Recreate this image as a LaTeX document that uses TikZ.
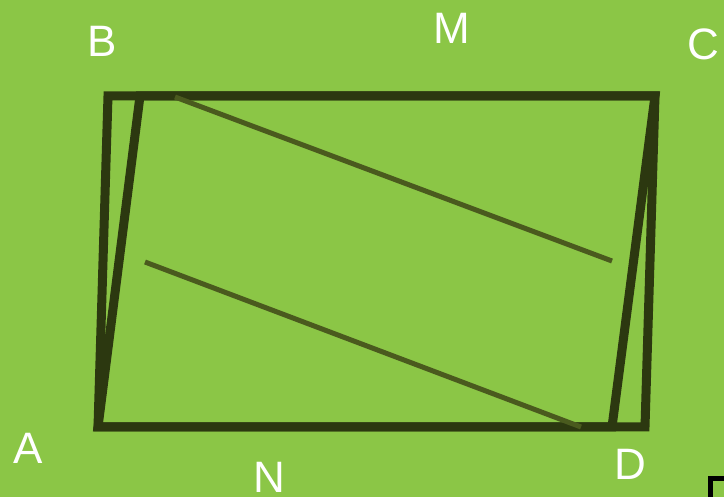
\documentclass[tikz,border=0pt]{standalone}
\usepackage{fontspec}
\setmainfont{Liberation Sans}
\definecolor{leaf}{RGB}{139,198,70}
\definecolor{frame}{RGB}{44,56,16}
\definecolor{stroke}{RGB}{74,90,30}
\tikzset{
  edge/.style={draw=frame, line width=9pt, line join=miter},
  diag/.style={draw=stroke, line width=5pt},
  lbl/.style={anchor=base, inner sep=0pt, text=white, font=\fontsize{44}{44}\selectfont}
}
\begin{document}
\begin{tikzpicture}[x=1pt,y=-1pt]
  \fill[leaf] (0,0) rectangle (724,497);
  \useasboundingbox (0,0) rectangle (724,497);
  \clip (0,0) rectangle (724,497);
  % corners
  \coordinate (A) at (98,427);
  \coordinate (B) at (108,96);
  \coordinate (C) at (655,96);
  \coordinate (D) at (645,427);
  \coordinate (P) at (140,96);
  \coordinate (Q) at (612,427);
  \draw[edge] (A) -- (B) -- (C) -- (D) -- cycle;
  \draw[edge] (A) -- (P) -- (C) -- (Q) -- cycle;
  % inner lines
  \coordinate (m1) at (175,97);
  \coordinate (m2) at (612,261);
  \coordinate (n1) at (145,262);
  \coordinate (n2) at (581,427);
  \draw[diag] (m1) -- (m2);
  \draw[diag] (n1) -- (n2);
  % labels
  \node[lbl] (lB) at (102,57) {B};
  \node[lbl] (lM) at (452,44) {M};
  \node[lbl] (lC) at (703,60) {C};
  \node[lbl] (lA) at (28.5,464) {A};
  \node[lbl] (lN) at (269,493) {N};
  \node[lbl] (lD) at (630,479) {D};
  % box corner
  \draw[line width=5pt, black] (710.5,510) -- (710.5,478.5) -- (740,478.5);
\end{tikzpicture}
\end{document}
